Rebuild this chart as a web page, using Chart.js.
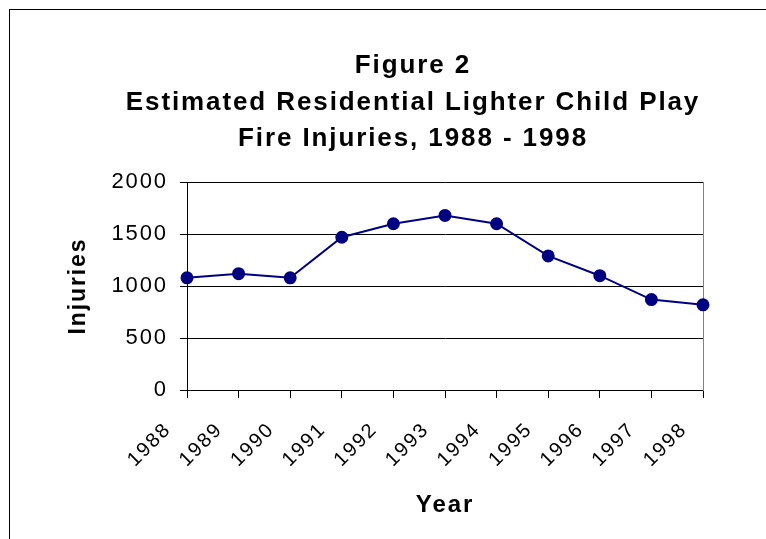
<!DOCTYPE html>
<html>
<head>
<meta charset="utf-8">
<title>Figure 2</title>
<script src="https://cdn.jsdelivr.net/npm/chart.js@4/dist/chart.umd.min.js"></script>
<style>
  html, body { margin: 0; padding: 0; background: #fff; overflow: hidden; }
  #frame { position: absolute; left: 9px; top: 9px; width: 800px; height: 600px; border: 1px solid #000; }
  #chart { position: absolute; left: 0; top: 0; }
</style>
</head>
<body>
<div id="frame"></div>
<canvas id="chart" width="766" height="539"></canvas>
<script>
// data
const years = ['1988', '1989', '1990', '1991', '1992', '1993', '1994', '1995', '1996', '1997', '1998'];
const injuries = [1080, 1120, 1080, 1470, 1600, 1680, 1600, 1290, 1100, 870, 820];
const yTicks = [0, 500, 1000, 1500, 2000];
const titleLines = ['Figure 2', 'Estimated Residential Lighter Child Play', 'Fire Injuries, 1988 - 1998'];

const FONT = "'Liberation Sans', Arial, sans-serif";
Chart.defaults.color = '#000';
Chart.defaults.font.family = FONT;

// the original text is set quite loose, widen it a bit when drawing
const looseText = {
  id: 'looseText',
  beforeDraw(chart) { chart.ctx.letterSpacing = '1.9px'; }
};

new Chart(document.getElementById('chart').getContext('2d'), {
  type: 'line',
  data: {
    labels: years,
    datasets: [{
      label: 'Injuries',
      data: injuries,
      borderColor: '#000080',
      backgroundColor: '#000080',
      borderWidth: 2,
      pointRadius: 5.5,
      pointBackgroundColor: '#000080',
      pointBorderColor: '#000080',
      tension: 0,
      yAxisID: 'y'
    }]
  },
  plugins: [looseText],
  options: {
    responsive: false,
    animation: false,
    devicePixelRatio: 1,
    layout: { padding: { left: 60, right: 0, top: 0, bottom: 0 } },
    plugins: {
      legend: { display: false },
      tooltip: { enabled: false },
      title: {
        display: true,
        text: titleLines,
        color: '#000',
        font: { size: 26, weight: 'bold', family: FONT, lineHeight: 1.4 },
        padding: { top: 48, bottom: 25 }
      }
    },
    scales: {
      x: {
        type: 'category',
        offset: false,
        afterFit: s => { s.height = 149; },
        grid: { drawOnChartArea: false, drawTicks: true, tickLength: 8, color: '#000' },
        border: { color: '#000', width: 1 },
        ticks: {
          autoSkip: false, minRotation: 45, maxRotation: 45,
          labelOffset: -19, padding: 20,
          font: { size: 20, family: FONT }, color: '#000'
        },
        title: {
          display: true, text: 'Year',
          font: { size: 24, weight: 'bold', family: FONT },
          padding: { top: 0, bottom: 19 }
        }
      },
      y: {
        min: 0, max: 2000,
        afterFit: s => { s.width = 127; },
        afterBuildTicks: s => { s.ticks = yTicks.map(v => ({ value: v })); },
        grid: { color: '#000', lineWidth: 1, drawTicks: true, tickLength: 7 },
        border: { color: '#000', width: 1 },
        ticks: {
          padding: 12, font: { size: 22, family: FONT }, color: '#000',
          callback: v => String(v)
        },
        title: {
          display: true, text: 'Injuries',
          font: { size: 23, weight: 'bold', family: FONT },
          padding: { top: 5, bottom: 0 }
        }
      },
      y2: {
        position: 'right',
        min: 0, max: 2000,
        afterFit: s => { s.width = 63; },
        grid: { drawOnChartArea: false, drawTicks: false },
        border: { color: '#808080', width: 1 },
        ticks: { display: false }
      }
    }
  }
});
</script>
</body>
</html>
